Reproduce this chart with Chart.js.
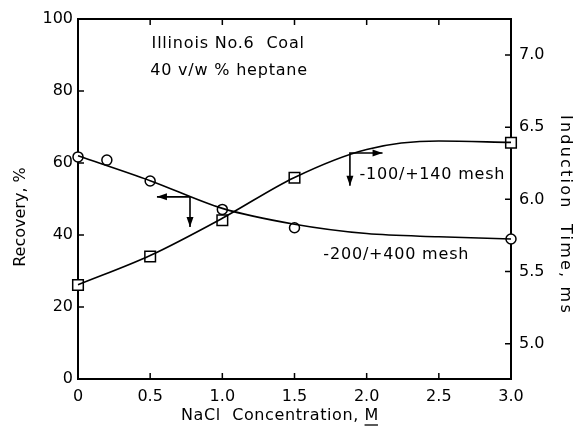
<!DOCTYPE html>
<html>
<head>
<meta charset="utf-8">
<script src="https://cdn.jsdelivr.net/npm/chart.js@4/dist/chart.umd.min.js"></script>
<style>
  html, body { margin: 0; padding: 0; background: #fff; }
  canvas { display: block; }
</style>
</head>
<body>
<canvas id="chart" width="574" height="431"></canvas>
<script>
'use strict';

// NaCl concentration (M) at which the fitted curves were read
const fitConc = [0, 0.5, 1.0, 1.5, 2.0, 2.5, 3.0];
// -200/+400 mesh, recovery (%), smooth curve
const recoveryFit = [62.0, 55.1, 47.4, 43.0, 40.4, 39.5, 38.9];
// -100/+140 mesh, induction time (ms), smooth curve
const inductionFit = [5.408, 5.611, 5.869, 6.152, 6.346, 6.404, 6.395];

// measured points
const recoveryConc = [0, 0.2, 0.5, 1.0, 1.5, 3.0];
const recoveryVals = [61.7, 60.8, 55.0, 47.1, 42.0, 38.9];
const inductionConc = [0, 0.5, 1.0, 1.5, 3.0];
const inductionVals = [5.406, 5.604, 5.855, 6.150, 6.392];

const xTicks = [0, 0.5, 1.0, 1.5, 2.0, 2.5, 3.0];
const recoveryTicks = [0, 20, 40, 60, 80, 100];
const inductionTicks = [5.0, 5.5, 6.0, 6.5, 7.0];

const FONT = '"DejaVu Sans", sans-serif';

const pairs = (xs, ys) => xs.map((x, i) => ({ x: x, y: ys[i] }));

// text notes, placed in data units
const notes = [
    { text: 'Illinois No.6  Coal', x: 0.51, y: 93.1, axis: 'y' },
    { text: '40 v/w % heptane', x: 0.50, y: 85.6, axis: 'y' },
    { text: '-200/+400 mesh', x: 1.70, y: 34.4, axis: 'y' },
    { text: '-100/+140 mesh', x: 1.95, y: 6.169, axis: 'y2' },
];

// corner arrows: one to the side (axis the curve belongs to), one down
const arrows = [
    { x: 0.776, y: 50.6, toX: 0.547, toY: 42.2, axis: 'y' },
    { x: 1.884, y: 6.321, toX: 2.11, toY: 6.095, axis: 'y2' },
];

function arrowHead(ctx, x1, y1, x2, y2) {
    const a = Math.atan2(y2 - y1, x2 - x1);
    const len = 10, w = 3.5;
    ctx.beginPath();
    ctx.moveTo(x2, y2);
    ctx.lineTo(x2 - len * Math.cos(a) + w * Math.sin(a), y2 - len * Math.sin(a) - w * Math.cos(a));
    ctx.lineTo(x2 - len * Math.cos(a) - w * Math.sin(a), y2 - len * Math.sin(a) + w * Math.cos(a));
    ctx.closePath();
    ctx.fill();
}

const extras = {
    id: 'extras',
    afterDraw(chart) {
        const ctx = chart.ctx;
        const sx = chart.scales.x;
        const area = chart.chartArea;
        ctx.save();
        ctx.strokeStyle = '#000';
        ctx.fillStyle = '#000';

        // inward ticks
        ctx.lineWidth = 1.5;
        const tl = 6;
        ctx.beginPath();
        xTicks.forEach(v => {
            const px = sx.getPixelForValue(v);
            ctx.moveTo(px, area.bottom); ctx.lineTo(px, area.bottom - tl);
            ctx.moveTo(px, area.top); ctx.lineTo(px, area.top + tl);
        });
        recoveryTicks.forEach(v => {
            const py = chart.scales.y.getPixelForValue(v);
            ctx.moveTo(area.left, py); ctx.lineTo(area.left + tl, py);
        });
        inductionTicks.forEach(v => {
            const py = chart.scales.y2.getPixelForValue(v);
            ctx.moveTo(area.right, py); ctx.lineTo(area.right - tl, py);
        });
        ctx.stroke();

        // arrows
        ctx.lineWidth = 1.6;
        arrows.forEach(a => {
            const sy = chart.scales[a.axis];
            const cx = sx.getPixelForValue(a.x), cy = sy.getPixelForValue(a.y);
            const hx = sx.getPixelForValue(a.toX), vy = sy.getPixelForValue(a.toY);
            ctx.beginPath();
            ctx.moveTo(hx, cy); ctx.lineTo(cx, cy); ctx.lineTo(cx, vy);
            ctx.stroke();
            arrowHead(ctx, cx, cy, hx, cy);
            arrowHead(ctx, cx, cy, cx, vy);
        });

        // notes
        ctx.font = '16px ' + FONT;
        ctx.letterSpacing = '0.8px';
        ctx.textBaseline = 'middle';
        ctx.textAlign = 'left';
        notes.forEach(n => {
            ctx.fillText(n.text, sx.getPixelForValue(n.x), chart.scales[n.axis].getPixelForValue(n.y));
        });

        // axis titles
        ctx.font = '16px ' + FONT;
        ctx.letterSpacing = '0.6px';
        const xt = 'NaCl  Concentration, ';
        const wt = ctx.measureText(xt).width;
        const wm = ctx.measureText('M').width;
        const x0 = 280 - (wt + wm) / 2;
        ctx.fillText(xt, x0, 416);
        ctx.fillText('M', x0 + wt, 416);
        ctx.lineWidth = 1.3;
        ctx.beginPath();
        ctx.moveTo(x0 + wt, 425); ctx.lineTo(x0 + wt + wm - 1, 425);
        ctx.stroke();

        ctx.textAlign = 'center';
        ctx.letterSpacing = '0px';
        ctx.save();
        ctx.translate(21, 217);
        ctx.rotate(-Math.PI / 2);
        ctx.fillText('Recovery, %', 0, 0);
        ctx.restore();

        ctx.letterSpacing = '2.2px';
        ctx.save();
        ctx.translate(565, 215);
        ctx.rotate(Math.PI / 2);
        ctx.fillText('Induction  Time, ms', 0, 0);
        ctx.restore();

        ctx.restore();
    }
};

const frame = { display: true, color: '#000', width: 2 };
const noGrid = { display: true, drawOnChartArea: false, drawTicks: false };

new Chart(document.getElementById('chart').getContext('2d'), {
    type: 'line',
    data: {
        datasets: [
            {
                label: 'recovery fit',
                data: pairs(fitConc, recoveryFit),
                yAxisID: 'y',
                borderColor: '#000',
                borderWidth: 1.6,
                pointRadius: 0,
                cubicInterpolationMode: 'monotone',
                fill: false,
            },
            {
                label: 'induction fit',
                data: pairs(fitConc, inductionFit),
                yAxisID: 'y2',
                borderColor: '#000',
                borderWidth: 1.6,
                pointRadius: 0,
                cubicInterpolationMode: 'monotone',
                fill: false,
            },
            {
                label: '-200/+400 mesh',
                data: pairs(recoveryConc, recoveryVals),
                yAxisID: 'y',
                showLine: false,
                pointStyle: 'circle',
                pointRadius: 5,
                pointBorderWidth: 1.5,
                pointBorderColor: '#000',
                pointBackgroundColor: '#fff',
            },
            {
                label: '-100/+140 mesh',
                data: pairs(inductionConc, inductionVals),
                yAxisID: 'y2',
                showLine: false,
                pointStyle: 'rect',
                pointRadius: 7.5,
                pointBorderWidth: 1.5,
                pointBorderColor: '#000',
                pointBackgroundColor: '#fff',
            },
        ],
    },
    options: {
        responsive: false,
        animation: false,
        devicePixelRatio: 1,
        layout: { padding: 0 },
        clip: false,
        plugins: {
            legend: { display: false },
            tooltip: { enabled: false },
        },
        scales: {
            x: {
                type: 'linear',
                position: 'bottom',
                min: 0,
                max: 3,
                border: frame,
                grid: noGrid,
                afterBuildTicks: s => { s.ticks = xTicks.map(v => ({ value: v })); },
                ticks: {
                    color: '#000',
                    padding: 8,
                    font: { family: FONT, size: 16 },
                    callback: v => (v === 0 ? '0' : Number(v).toFixed(1)),
                },
                afterFit: s => { s.height = 52; },
            },
            xTop: {
                type: 'linear',
                position: 'top',
                min: 0,
                max: 3,
                border: frame,
                grid: noGrid,
                ticks: { display: false },
                afterFit: s => { s.height = 19; },
            },
            y: {
                position: 'left',
                min: 0,
                max: 100,
                border: frame,
                grid: noGrid,
                afterBuildTicks: s => { s.ticks = recoveryTicks.map(v => ({ value: v })); },
                ticks: {
                    color: '#000',
                    padding: 5,
                    font: { family: FONT, size: 16 },
                },
                afterFit: s => { s.width = 78; },
            },
            y2: {
                position: 'right',
                min: 4.755,
                max: 7.25,
                border: frame,
                grid: noGrid,
                afterBuildTicks: s => { s.ticks = inductionTicks.map(v => ({ value: v })); },
                ticks: {
                    color: '#000',
                    padding: 8,
                    font: { family: FONT, size: 16 },
                    callback: v => Number(v).toFixed(1),
                },
                afterFit: s => { s.width = 63; },
            },
        },
    },
    plugins: [extras],
});
</script>
</body>
</html>
